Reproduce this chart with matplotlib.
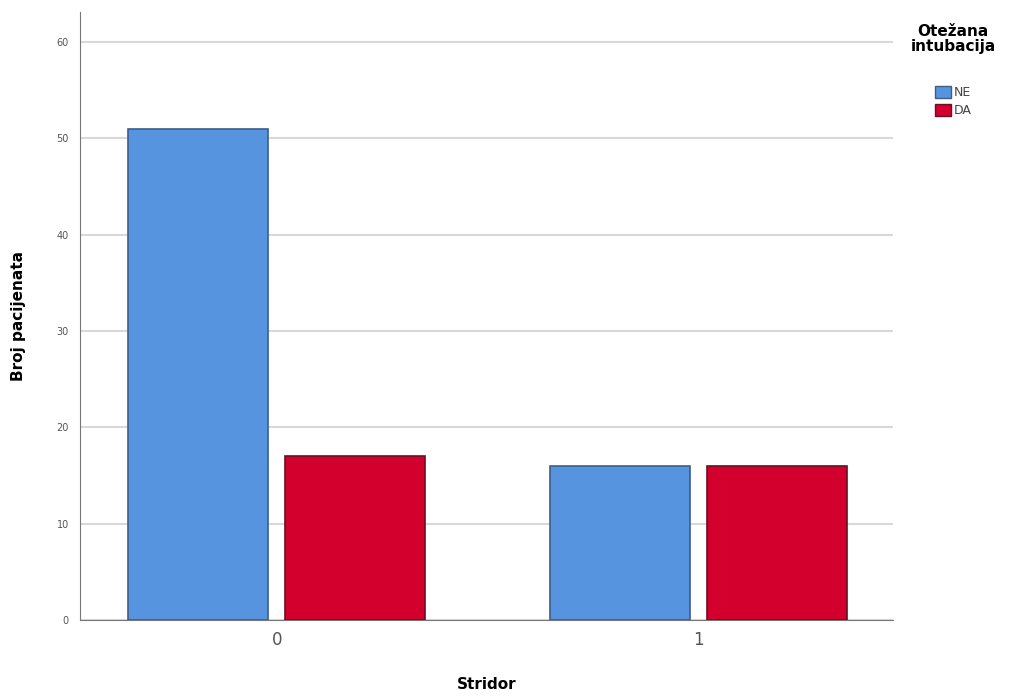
import matplotlib.pyplot as plt
from matplotlib.patches import Patch
import numpy as np

categories = ['0', '1']
ne_values = [51, 16]
da_values = [17, 16]
series_names = ['NE', 'DA']

blue = '#5694e0'
red = '#d3002d'

fig = plt.figure(figsize=(10.15, 7), dpi=100)
ax = fig.add_axes([0.0788, 0.1143, 0.8012, 0.8687])

x = np.arange(len(categories))
w = 0.332
off = 0.186
ax.bar(x - off, ne_values, w, color=blue, edgecolor='#3a5f8a', linewidth=1.2, zorder=3)
ax.bar(x + off, da_values, w, color=red, edgecolor='#6a1020', linewidth=1.2, zorder=3)

ax.set_xlim(-0.466, 1.461)
ax.set_ylim(0, 63.1)
ax.set_yticks([0, 10, 20, 30, 40, 50, 60])
ax.yaxis.grid(True, color='#d8d8d8', linewidth=1.5, zorder=0)
ax.set_xticks(x)
ax.set_xticklabels(categories, fontsize=12, color='#555555')
ax.tick_params(axis='y', labelsize=7, colors='#555555', length=0, pad=8)
ax.tick_params(axis='x', length=0, pad=8)

for s in ['top', 'right']:
    ax.spines[s].set_visible(False)
ax.spines['left'].set_color('#777777')
ax.spines['bottom'].set_color('#777777')

ax.set_ylabel('Broj pacijenata', fontsize=11, fontweight='bold', labelpad=22)
ax.set_xlabel('Stridor', fontsize=11, fontweight='bold', labelpad=20)

# naslov legende posebno, da bude centriran
fig.text(0.939, 0.965, 'Otežana\nintubacija', ha='center', va='top', fontsize=11,
         fontweight='bold', linespacing=1.0)
handles = [Patch(facecolor=blue, edgecolor='#3a5f8a'), Patch(facecolor=red, edgecolor='#6a1020')]
fig.legend(handles, series_names, loc='upper left', bbox_to_anchor=(0.916, 0.885),
           frameon=False, fontsize=9, handlelength=1.3, handleheight=1.2,
           handletextpad=0.2, labelspacing=0.35, borderaxespad=0, labelcolor='#444444')

fig.savefig('out.png', dpi=100)
